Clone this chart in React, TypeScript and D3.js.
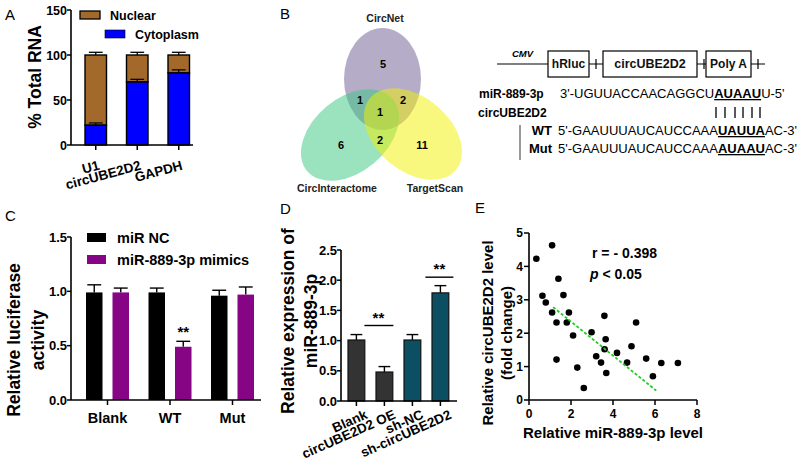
import React from 'react';
import * as d3 from 'd3';

// ---------- Panel A data ----------
const rnaCats = ['U1', 'circUBE2D2', 'GAPDH'];
const cytoplasm = [22, 70, 80];
const cytoErr = [2.5, 3, 3.5];
const nuclear = [78, 30, 20];
const nuclearErr = [3, 3, 3];
const rnaTicks = [0, 50, 100, 150];
const rnaSeries = ['Nuclear', 'Cytoplasm'];

// ---------- Panel B data ----------
const vennSets = ['CircNet', 'CircInteractome', 'TargetScan'];
const vennOnly = [5, 6, 11];
const vennPairs = [1, 2, 2]; // Net∩Inter, Net∩Target, Inter∩Target
const vennAll = [1];
const constructParts = ['hRluc', 'circUBE2D2', 'Poly A'];
const mirSeq = ["3'-UGUUACCAACAGGCU", 'AUAAU', "U-5'"];
const wtSeq = ["5'-GAAUUUAUCAUCCAAA", 'UAUUA', "AC-3'"];
const mutSeq = ["5'-GAAUUUAUCAUCCAAA", 'AUAAU', "AC-3'"];

// ---------- Panel C data ----------
const lucGroups = ['Blank', 'WT', 'Mut'];
const lucSeries = ['miR NC', 'miR-889-3p mimics'];
const lucNC = [0.99, 0.99, 0.96];
const lucNCErr = [0.07, 0.04, 0.05];
const lucMimic = [0.99, 0.49, 0.97];
const lucMimicErr = [0.04, 0.05, 0.07];
const lucTicks = [0, 0.5, 1.0, 1.5];

// ---------- Panel D data ----------
const exprCats = ['Blank', 'circUBE2D2 OE', 'sh-NC', 'sh-circUBE2D2'];
const exprVals = [1.01, 0.48, 1.01, 1.79];
const exprErr = [0.09, 0.09, 0.09, 0.12];
const exprTicks = [0, 0.5, 1.0, 1.5, 2.0, 2.5];

// ---------- Panel E data ----------
const corrX = [0.35, 1.1, 0.64, 0.8, 1.4, 1.1, 1.64, 1.31, 1.9, 1.8, 2.1, 1.31, 2.3, 2.61, 2.98, 3.2, 3.43, 3.59, 3.65, 3.6, 3.68, 4.19, 4.67, 4.88, 5.1, 5.58, 5.9, 6.3, 7.09];
const corrY = [4.23, 4.63, 3.12, 2.92, 3.63, 2.62, 3.14, 2.32, 2.62, 2.32, 1.93, 1.21, 0.97, 0.36, 2.03, 1.31, 1.12, 2.52, 1.82, 1.52, 0.81, 1.41, 1.12, 1.61, 2.32, 1.24, 0.71, 1.11, 1.11];
const fitX = [1.15, 6.06];
const fitY = [2.78, 0.28];
const corrXTicks = [0, 2, 4, 6, 8];
const corrYTicks = [0, 1, 2, 3, 4, 5];

const FONT = 'Liberation Sans, Arial, Helvetica, sans-serif';
const BROWN = '#a2692b';
const BLUE = '#0000ff';
const PURPLE = '#850585';
const DARK = '#333333';
const TEAL = '#0c4f63';

function fmt1(v: number) {
  return v.toFixed(1);
}

function PanelA() {
  const y = d3.scaleLinear().domain([0, 150]).range([145, 10]);
  const x = d3.scaleBand().domain(rnaCats).range([85, 189.5]).paddingInner(0.482).paddingOuter(0);
  const bw = x.bandwidth();
  return (
    <g fontFamily={FONT}>
      <text x={5} y={20} fontSize={15}>A</text>
      {rnaCats.map((c, i) => {
        const x0 = x(c) as number;
        const cx = x0 + bw / 2;
        const capW = bw * 0.32;
        const top = cytoplasm[i] + nuclear[i];
        return (
          <g key={c}>
            <line x1={cx} x2={cx} y1={y(top)} y2={y(top + nuclearErr[i])} stroke="#000" strokeWidth={1.3} />
            <line x1={cx - capW} x2={cx + capW} y1={y(top + nuclearErr[i])} y2={y(top + nuclearErr[i])} stroke="#000" strokeWidth={1.3} />
            <rect x={x0} width={bw} y={y(top)} height={y(cytoplasm[i]) - y(top)} fill={BROWN} stroke="#000" strokeWidth={1.4} />
            <line x1={cx} x2={cx} y1={y(cytoplasm[i])} y2={y(cytoplasm[i] + cytoErr[i])} stroke="#000" strokeWidth={1.2} />
            <line x1={cx - capW} x2={cx + capW} y1={y(cytoplasm[i] + cytoErr[i])} y2={y(cytoplasm[i] + cytoErr[i])} stroke="#000" strokeWidth={1.2} />
            <rect x={x0} width={bw} y={y(cytoplasm[i])} height={y(0) - y(cytoplasm[i])} fill={BLUE} stroke="#000" strokeWidth={1.4} />
            <line x1={cx} x2={cx} y1={y(0)} y2={y(0) + 5} stroke="#000" strokeWidth={1.5} />
            <text transform={`translate(${cx + 2},${160}) rotate(-15)`} textAnchor="end" dy="0.72em" fontSize={13.5} fontWeight="bold">{c}</text>
          </g>
        );
      })}
      <line x1={71} x2={71} y1={y(150)} y2={y(0)} stroke="#000" strokeWidth={1.6} />
      <line x1={71} x2={193} y1={y(0)} y2={y(0)} stroke="#000" strokeWidth={1.6} />
      {rnaTicks.map((t) => (
        <g key={t}>
          <line x1={67} x2={71} y1={y(t)} y2={y(t)} stroke="#000" strokeWidth={1.5} />
          <text x={67} y={y(t)} dy="0.36em" textAnchor="end" fontSize={12.5} fontWeight="bold">{t}</text>
        </g>
      ))}
      <text transform={`translate(41,77) rotate(-90)`} textAnchor="middle" fontSize={17.5} fontWeight="bold">% Total RNA</text>
      {/* legend */}
      <rect x={80} y={11} width={20} height={8} fill={BROWN} stroke="#000" strokeWidth={1.3} />
      <text x={110} y={19.5} fontSize={12.5} fontWeight="bold">{rnaSeries[0]}</text>
      <rect x={105} y={30} width={20} height={8} fill={BLUE} stroke="#000" strokeWidth={0.6} />
      <text x={135} y={38.5} fontSize={12.5} fontWeight="bold">{rnaSeries[1]}</text>
    </g>
  );
}

function PanelB() {
  const seqY = [98, 135, 153];
  return (
    <g fontFamily={FONT}>
      <text x={280} y={19} fontSize={15}>B</text>
      {/* Venn */}
      <g>
        <ellipse cx={382.5} cy={79} rx={38.5} ry={51} fill="#6b5b91" fillOpacity={0.5} />
        <ellipse cx={0} cy={0} rx={56} ry={37} transform="translate(350,135) rotate(-40)" fill="#38c680" fillOpacity={0.5} />
        <ellipse cx={0} cy={0} rx={56} ry={37} transform="translate(413,134) rotate(40)" fill="#f2f200" fillOpacity={0.5} />
      </g>
      <g fontSize={11} fontWeight="bold" textAnchor="middle">
        <text x={383} y={68}>{vennOnly[0]}</text>
        <text x={341} y={149}>{vennOnly[1]}</text>
        <text x={422} y={149}>{vennOnly[2]}</text>
        <text x={360} y={104}>{vennPairs[0]}</text>
        <text x={403} y={104}>{vennPairs[1]}</text>
        <text x={380} y={144}>{vennPairs[2]}</text>
        <text x={380} y={116}>{vennAll[0]}</text>
      </g>
      <g fontSize={10.5} fontWeight="bold" textAnchor="middle" fill="#222">
        <text x={385} y={22}>{vennSets[0]}</text>
        <text x={337} y={192}>{vennSets[1]}</text>
        <text x={435} y={192}>{vennSets[2]}</text>
      </g>
      {/* construct */}
      <line x1={497} x2={765} y1={64} y2={64} stroke="#000" strokeWidth={1.2} />
      <text x={512} y={57} fontSize={9.5} fontWeight="bold" fontStyle="italic">CMV</text>
      {[[548, 589], [603, 697], [706, 751]].map(([a, b], i) => (
        <g key={i}>
          <rect x={a} y={51} width={b - a} height={26} fill="#fff" stroke="#000" strokeWidth={1.2} />
          <line x1={b + 7} x2={b + 7} y1={59} y2={69} stroke="#000" strokeWidth={1.2} />
          <text x={(a + b) / 2} y={68} textAnchor="middle" fontSize={i === 1 ? 12.5 : 12} fontWeight="bold" fill="#111">{constructParts[i]}</text>
        </g>
      ))}
      {/* sequences */}
      <text x={479} y={seqY[0]} fontSize={12} fontWeight="bold">miR-889-3p</text>
      <text x={478} y={117} fontSize={12} fontWeight="bold">circUBE2D2</text>
      <text x={560} y={seqY[0]} fontSize={13}>
        <tspan>{mirSeq[0]}</tspan>
        <tspan fontWeight="bold" textDecoration="underline">{mirSeq[1]}</tspan>
        <tspan>{mirSeq[2]}</tspan>
      </text>
      {[716, 725, 735, 743, 752, 760].map((px) => (
        <line key={px} x1={px} x2={px} y1={107} y2={118} stroke="#000" strokeWidth={1.3} />
      ))}
      <line x1={520} x2={520} y1={125} y2={160} stroke="#777" strokeWidth={1.5} />
      <text x={552} y={seqY[1]} fontSize={13} fontWeight="bold" textAnchor="end">WT</text>
      <text x={552} y={seqY[2]} fontSize={13} fontWeight="bold" textAnchor="end">Mut</text>
      <text x={558} y={seqY[1]} fontSize={13}>
        <tspan>{wtSeq[0]}</tspan>
        <tspan fontWeight="bold" textDecoration="underline">{wtSeq[1]}</tspan>
        <tspan>{wtSeq[2]}</tspan>
      </text>
      <text x={558} y={seqY[2]} fontSize={13}>
        <tspan>{mutSeq[0]}</tspan>
        <tspan fontWeight="bold" textDecoration="underline">{mutSeq[1]}</tspan>
        <tspan>{mutSeq[2]}</tspan>
      </text>
    </g>
  );
}

function PanelC() {
  const y = d3.scaleLinear().domain([0, 1.5]).range([400, 237]);
  const xg = d3.scaleBand().domain(lucGroups).range([86, 254]).paddingInner(0.312).paddingOuter(0);
  const xs = d3.scaleBand().domain(lucSeries).range([0, xg.bandwidth()]).paddingInner(0.377).paddingOuter(0);
  const bw = xs.bandwidth();
  const series = [
    { vals: lucNC, errs: lucNCErr, color: '#000' },
    { vals: lucMimic, errs: lucMimicErr, color: PURPLE },
  ];
  return (
    <g fontFamily={FONT}>
      <text x={5} y={221} fontSize={15}>C</text>
      {lucGroups.map((g, gi) => {
        const gx = xg(g) as number;
        return (
          <g key={g}>
            {series.map((s, si) => {
              const x0 = gx + (xs(lucSeries[si]) as number);
              const cx = x0 + bw / 2;
              const v = s.vals[gi];
              const e = v + s.errs[gi];
              return (
                <g key={si}>
                  <line x1={cx} x2={cx} y1={y(v)} y2={y(e)} stroke="#000" strokeWidth={1.4} />
                  <line x1={cx - bw * 0.42} x2={cx + bw * 0.42} y1={y(e)} y2={y(e)} stroke="#000" strokeWidth={1.4} />
                  <rect x={x0} width={bw} y={y(v)} height={y(0) - y(v)} fill={s.color} />
                </g>
              );
            })}
            <line x1={gx + xg.bandwidth() / 2} x2={gx + xg.bandwidth() / 2} y1={400} y2={405} stroke="#000" strokeWidth={1.5} />
            <text x={gx + xg.bandwidth() / 2} y={423} textAnchor="middle" fontSize={14.5} fontWeight="bold">{g}</text>
          </g>
        );
      })}
      <text x={(xg('WT') as number) + (xs(lucSeries[1]) as number) + bw / 2} y={y(lucMimic[1] + lucMimicErr[1]) - 4} textAnchor="middle" fontSize={15} fontWeight="bold">**</text>
      <line x1={71} x2={71} y1={y(1.5)} y2={y(0)} stroke="#000" strokeWidth={1.6} />
      <line x1={71} x2={261} y1={y(0)} y2={y(0)} stroke="#000" strokeWidth={1.6} />
      {lucTicks.map((t) => (
        <g key={t}>
          <line x1={67} x2={71} y1={y(t)} y2={y(t)} stroke="#000" strokeWidth={1.5} />
          <text x={67} y={y(t)} dy="0.36em" textAnchor="end" fontSize={13} fontWeight="bold">{fmt1(t)}</text>
        </g>
      ))}
      <text transform="translate(14,340) rotate(-90)" textAnchor="middle" fontSize={17.5} fontWeight="bold" dy="0.35em">Relative luciferase</text>
      <text transform="translate(38,340) rotate(-90)" textAnchor="middle" fontSize={17.5} fontWeight="bold" dy="0.35em">activity</text>
      <rect x={87} y={233} width={19} height={9} fill="#000" />
      <text x={117} y={243} fontSize={14.5} fontWeight="bold">{lucSeries[0]}</text>
      <rect x={87} y={255} width={19} height={9} fill={PURPLE} />
      <text x={117} y={265} fontSize={14.5} fontWeight="bold">{lucSeries[1]}</text>
    </g>
  );
}

function PanelD() {
  const y = d3.scaleLinear().domain([0, 2.5]).range([401, 250]);
  const x = d3.scaleBand().domain(exprCats).range([348, 448.8]).paddingInner(0.4).paddingOuter(0);
  const bw = x.bandwidth();
  const colors = [DARK, DARK, TEAL, TEAL];
  const cxOf = (c: string) => (x(c) as number) + bw / 2;
  const sig1Y = y(1.25);
  const sig2Y = y(2.05);
  return (
    <g fontFamily={FONT}>
      <text x={280} y={214} fontSize={15}>D</text>
      {exprCats.map((c, i) => {
        const x0 = x(c) as number;
        const cx = x0 + bw / 2;
        const e = exprVals[i] + exprErr[i];
        return (
          <g key={c}>
            <line x1={cx} x2={cx} y1={y(exprVals[i])} y2={y(e)} stroke="#000" strokeWidth={1.4} />
            <line x1={cx - bw * 0.35} x2={cx + bw * 0.35} y1={y(e)} y2={y(e)} stroke="#000" strokeWidth={1.4} />
            <rect x={x0} width={bw} y={y(exprVals[i])} height={y(0) - y(exprVals[i])} fill={colors[i]} stroke="#111" strokeWidth={1.2} />
            <line x1={cx} x2={cx} y1={401} y2={406} stroke="#000" strokeWidth={1.5} />
            <text transform={`translate(${cx + 8},${409}) rotate(-24)`} textAnchor="end" dy="0.72em" fontSize={13.5} fontWeight="bold">{c}</text>
          </g>
        );
      })}
      <line x1={cxOf(exprCats[0]) + 8} x2={cxOf(exprCats[1]) + 9} y1={sig1Y} y2={sig1Y} stroke="#000" strokeWidth={1.4} />
      <text x={(cxOf(exprCats[0]) + cxOf(exprCats[1])) / 2 + 8} y={sig1Y - 3} textAnchor="middle" fontSize={15} fontWeight="bold">**</text>
      <line x1={cxOf(exprCats[2]) + 13} x2={cxOf(exprCats[3]) + 13} y1={sig2Y} y2={sig2Y} stroke="#000" strokeWidth={1.4} />
      <text x={(cxOf(exprCats[2]) + cxOf(exprCats[3])) / 2 + 13} y={sig2Y - 3} textAnchor="middle" fontSize={15} fontWeight="bold">**</text>
      <line x1={341} x2={341} y1={y(2.5)} y2={y(0)} stroke="#000" strokeWidth={1.6} />
      <line x1={341} x2={457} y1={y(0)} y2={y(0)} stroke="#000" strokeWidth={1.6} />
      {exprTicks.map((t) => (
        <g key={t}>
          <line x1={337} x2={341} y1={y(t)} y2={y(t)} stroke="#000" strokeWidth={1.5} />
          <text x={337} y={y(t)} dy="0.36em" textAnchor="end" fontSize={13} fontWeight="bold">{fmt1(t)}</text>
        </g>
      ))}
      <text transform="translate(288,321) rotate(-90)" textAnchor="middle" dy="0.35em" fontSize={17.5} fontWeight="bold">Relative expression of</text>
      <text transform="translate(311,321) rotate(-90)" textAnchor="middle" dy="0.35em" fontSize={17.5} fontWeight="bold">miR-889-3p</text>
    </g>
  );
}

function PanelE() {
  const x = d3.scaleLinear().domain([0, 8]).range([529, 697]);
  const y = d3.scaleLinear().domain([0, 5]).range([400, 233]);
  const pts = corrX.map((v, i) => [v, corrY[i]] as [number, number]);
  const fit = d3.line<[number, number]>().x((d) => x(d[0])).y((d) => y(d[1]))(fitX.map((v, i) => [v, fitY[i]] as [number, number]));
  return (
    <g fontFamily={FONT}>
      <text x={475} y={213} fontSize={15}>E</text>
      {pts.map((p, i) => (
        <circle key={i} cx={x(p[0])} cy={y(p[1])} r={3.3} fill="#000" />
      ))}
      <path d={fit || ''} stroke="#22cc22" strokeWidth={1.8} strokeDasharray="3,2" fill="none" />
      <line x1={529} x2={529} y1={y(5)} y2={y(0)} stroke="#000" strokeWidth={1.6} />
      <line x1={529} x2={697} y1={y(0)} y2={y(0)} stroke="#000" strokeWidth={1.6} />
      {corrYTicks.map((t) => (
        <g key={t}>
          <line x1={524} x2={529} y1={y(t)} y2={y(t)} stroke="#000" strokeWidth={1.5} />
          <text x={523} y={y(t)} dy="0.36em" textAnchor="end" fontSize={12} fontWeight="bold">{t}</text>
        </g>
      ))}
      {corrXTicks.map((t) => (
        <g key={t}>
          <line x1={x(t)} x2={x(t)} y1={400} y2={405} stroke="#000" strokeWidth={1.5} />
          <text x={x(t)} y={418} textAnchor="middle" fontSize={12} fontWeight="bold">{t}</text>
        </g>
      ))}
      <text x={613} y={438} textAnchor="middle" fontSize={15} fontWeight="bold">Relative miR-889-3p level</text>
      <text transform="translate(488,333) rotate(-90)" textAnchor="middle" dy="0.35em" fontSize={15} fontWeight="bold">Relative circUBE2D2 level</text>
      <text transform="translate(507,333) rotate(-90)" textAnchor="middle" dy="0.35em" fontSize={15} fontWeight="bold">(fold change)</text>
      <text x={592} y={258} fontSize={14} fontWeight="bold">r =  - 0.398</text>
      <text x={590} y={279} fontSize={14} fontWeight="bold"><tspan fontStyle="italic">p</tspan> &lt; 0.05</text>
    </g>
  );
}

export default function App() {
  return (
    <svg width={800} height={465} viewBox="0 0 800 465" style={{ position: 'absolute', left: 0, top: 0, background: '#fff' }}>
      <rect width={800} height={465} fill="#fff" />
      <PanelA />
      <PanelB />
      <PanelC />
      <PanelD />
      <PanelE />
    </svg>
  );
}
